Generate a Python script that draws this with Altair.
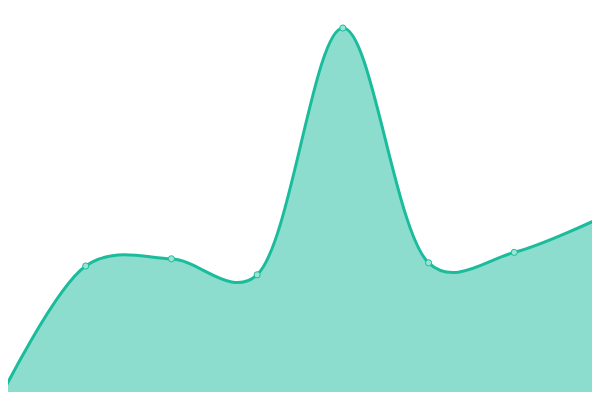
import altair as alt
import pandas as pd

idx = [0, 1, 2, 3, 4, 5, 6, 7]
values = [0.5, 33.5, 35.3, 31.3, 93, 34.3, 36.9, 45.5]

df = pd.DataFrame({"i": idx, "v": values})

LINE = "#1abc9c"

x = alt.X("i:Q", axis=None, scale=alt.Scale(domain=[0.0933, 6.9067], nice=False, zero=False))
y = alt.Y("v:Q", axis=None, scale=alt.Scale(domain=[2, 98], nice=False, zero=False))

base = alt.Chart(df).encode(x=x, y=y)

area = base.mark_area(interpolate="catmull-rom", tension=0.25, color=LINE, opacity=0.5, clip=True)
line = base.mark_line(interpolate="catmull-rom", tension=0.25, color=LINE, strokeWidth=3, clip=True)
pts = base.mark_point(filled=False, shape="circle", size=38, fill="#9be4d4", fillOpacity=1,
                      stroke=LINE, strokeWidth=1, opacity=1, clip=True)

chart = alt.layer(area, line, pts).properties(width=584, height=384, padding=0).configure_view(stroke=None)

chart.save("out.html", embed_options={"renderer": "svg", "actions": False})
